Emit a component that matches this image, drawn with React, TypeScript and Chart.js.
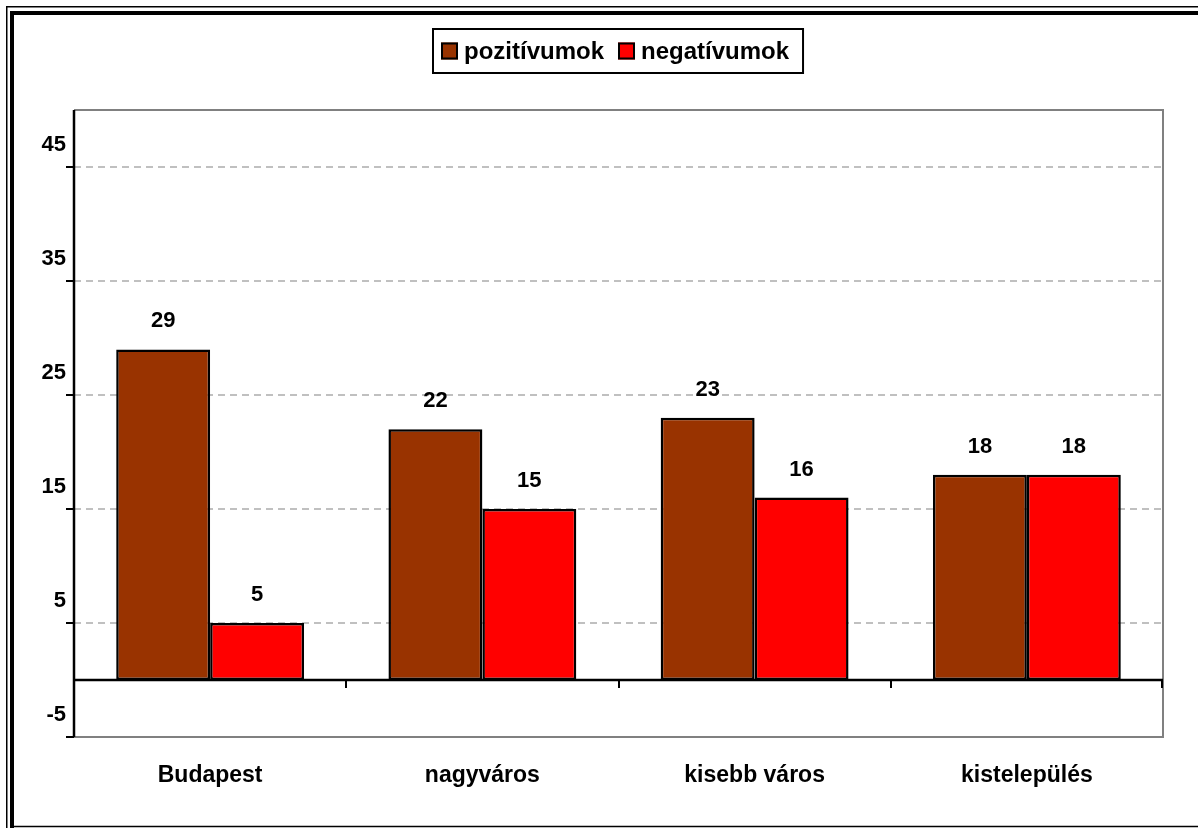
import React, { useEffect, useRef } from "react";
import { Chart, registerables } from "chart.js";

Chart.register(...registerables);

const categories = ["Budapest", "nagyváros", "kisebb város", "kistelepülés"];
const seriesNames = ["pozitívumok", "negatívumok"];
const positives = [29, 22, 23, 18];
const negatives = [5, 15, 16, 18];
const yTickValues = [-5, 5, 15, 25, 35, 45];
const yMin = -5;
const yMax = 50;

const FONT = '"Liberation Sans", Arial, Helvetica, sans-serif';
const colors = ["#993300", "#FF0000"];

const decorPlugin = {
  id: "decor",
  beforeDatasetsDraw(chart: any) {
    const { ctx, chartArea } = chart;
    const { left, right, top, bottom } = chartArea;
    ctx.save();
    ctx.strokeStyle = "#808080";
    ctx.lineWidth = 2;
    ctx.beginPath();
    ctx.moveTo(left, top);
    ctx.lineTo(right, top);
    ctx.lineTo(right, bottom);
    ctx.lineTo(left, bottom);
    ctx.stroke();
    ctx.restore();
  },
  afterDatasetsDraw(chart: any) {
    const { ctx, chartArea, scales } = chart;
    const { left, right, top, bottom } = chartArea;
    const y = scales.y;
    const zeroY = Math.round(y.getPixelForValue(0));
    ctx.save();
    ctx.strokeStyle = "#000";
    ctx.lineWidth = 2.5;
    ctx.beginPath();
    ctx.moveTo(left, zeroY);
    ctx.lineTo(right, zeroY);
    ctx.stroke();
    const n = categories.length;
    const cw = (right - left) / n;
    ctx.lineWidth = 2;
    ctx.beginPath();
    for (let k = 1; k <= n; k++) {
      const x = Math.round(left + cw * k) - (k === n ? 1 : 0);
      ctx.moveTo(x, zeroY);
      ctx.lineTo(x, zeroY + 8);
    }
    ctx.stroke();
    ctx.lineWidth = 2.5;
    ctx.beginPath();
    ctx.moveTo(left, top);
    ctx.lineTo(left, bottom);
    ctx.stroke();
    ctx.lineWidth = 2;
    ctx.beginPath();
    yTickValues.forEach((v) => {
      const py = Math.round(y.getPixelForValue(v));
      ctx.moveTo(left - 8, py);
      ctx.lineTo(left, py);
    });
    ctx.stroke();
    ctx.fillStyle = "#000";
    ctx.font = `bold 22px ${FONT}`;
    ctx.textAlign = "center";
    ctx.textBaseline = "alphabetic";
    chart.data.datasets.forEach((ds: any, di: number) => {
      const meta = chart.getDatasetMeta(di);
      meta.data.forEach((bar: any, i: number) => {
        ctx.fillText(String(ds.data[i]), bar.x, bar.y - 22);
      });
    });
    ctx.restore();
  },
  afterDraw(chart: any) {
    const { ctx, chartArea, width, height } = chart;
    ctx.save();
    ctx.font = `bold 24px ${FONT}`;
    const sq = 17, gap = 6, itemGap = 14, padL = 8, padR = 14;
    const widths = chart.data.datasets.map((d: any) => ctx.measureText(d.label).width);
    let total = padL + padR;
    widths.forEach((w: number, i: number) => {
      total += sq + gap + w + (i > 0 ? itemGap : 0);
    });
    const cx = (chartArea.left + chartArea.right) / 2;
    const bx = Math.round(cx - total / 2);
    const by = 29, bh = 44;
    ctx.strokeStyle = "#000";
    ctx.lineWidth = 2;
    ctx.strokeRect(bx, by, total, bh);
    let x = bx + padL;
    const midY = by + bh / 2;
    chart.data.datasets.forEach((d: any, i: number) => {
      if (i > 0) x += itemGap;
      ctx.fillStyle = d.backgroundColor;
      ctx.fillRect(x, midY - sq / 2, sq, sq);
      ctx.strokeRect(x + 1, midY - sq / 2 + 1, sq - 2, sq - 2);
      x += sq + gap;
      ctx.fillStyle = "#000";
      ctx.textAlign = "left";
      ctx.textBaseline = "alphabetic";
      ctx.fillText(d.label, x, midY + 8);
      x += widths[i];
    });
    ctx.strokeStyle = "#000";
    ctx.lineWidth = 1.5;
    ctx.beginPath();
    ctx.moveTo(6.75, height);
    ctx.lineTo(6.75, 6.75);
    ctx.lineTo(width, 6.75);
    ctx.stroke();
    ctx.lineWidth = 4;
    ctx.beginPath();
    ctx.moveTo(12, height);
    ctx.lineTo(12, 13);
    ctx.lineTo(width, 13);
    ctx.stroke();
    ctx.lineWidth = 1.5;
    ctx.beginPath();
    ctx.moveTo(14, height - 1.5);
    ctx.lineTo(width, height - 1.5);
    ctx.stroke();
    ctx.restore();
  },
};

export default function App() {
  const canvasRef = useRef<HTMLCanvasElement | null>(null);

  useEffect(() => {
    document.body.style.margin = "0";
    const canvas = canvasRef.current;
    if (!canvas) return;
    const chart = new Chart(canvas, {
      type: "bar",
      data: {
        labels: categories,
        datasets: [
          {
            label: seriesNames[0],
            data: positives,
            backgroundColor: colors[0],
            borderColor: "#000",
            borderWidth: 2.5,
            borderSkipped: false,
            categoryPercentage: 0.69,
            barPercentage: 1,
          },
          {
            label: seriesNames[1],
            data: negatives,
            backgroundColor: colors[1],
            borderColor: "#000",
            borderWidth: 2.5,
            borderSkipped: false,
            categoryPercentage: 0.69,
            barPercentage: 1,
          },
        ],
      },
      options: {
        animation: false,
        responsive: false,
        devicePixelRatio: 1,
        layout: { padding: { top: 110, right: 35, left: 0, bottom: 0 } },
        plugins: {
          legend: { display: false },
          tooltip: { enabled: false },
        },
        scales: {
          x: {
            grid: { display: false, drawTicks: false },
            border: { display: false },
            ticks: {
              color: "#000",
              font: { family: FONT, size: 23, weight: "bold" },
              padding: 25,
              maxRotation: 0,
            },
            afterFit: (s: any) => {
              s.height = 91;
            },
          },
          y: {
            min: yMin,
            max: yMax,
            afterBuildTicks: (s: any) => {
              s.ticks = yTickValues.map((v) => ({ value: v }));
            },
            grid: {
              color: (c: any) => (c.tick && c.tick.value === yMin ? "rgba(0,0,0,0)" : "#c0c0c0"),
              lineWidth: 2,
              drawTicks: false,
              borderDash: [7, 5],
            } as any,
            border: { display: false, dash: [7, 5] },
            ticks: {
              color: "#000",
              font: { family: FONT, size: 22, weight: "bold" },
              padding: 8,
              labelOffset: -22,
            },
            afterFit: (s: any) => {
              s.width = 74;
            },
          },
        },
      } as any,
      plugins: [decorPlugin],
    });
    return () => chart.destroy();
  }, []);

  return (
    <div style={{ width: 1198, height: 828, background: "#fff" }}>
      <canvas ref={canvasRef} width={1198} height={828} style={{ display: "block" }} />
    </div>
  );
}
